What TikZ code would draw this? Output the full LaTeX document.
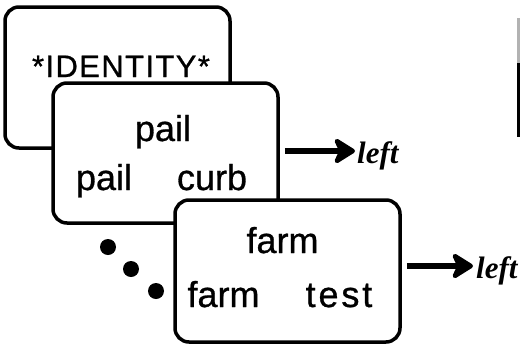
\documentclass[tikz,border=0pt]{standalone}
\usepackage{fontspec}
\setmainfont{Liberation Sans}
\newfontfamily\labelfont{Liberation Serif}
\usetikzlibrary{arrows.meta,calc}

\begin{document}
\begin{tikzpicture}[x=1pt,y=-1pt,
  card/.style={shape=rectangle, draw=black, line width=3.5pt, fill=white,
    rounded corners=14pt, minimum width=225pt, inner sep=0pt},
  word/.style={inner sep=0pt, anchor=base,
    font=\fontsize{36}{40}\selectfont\addfontfeatures{FakeBold=0.8}},
  caps/.style={inner sep=0pt, anchor=base,
    font=\fontsize{31}{34}\selectfont\addfontfeatures{LetterSpace=4.5,FakeBold=0.8}},
  tag/.style={inner sep=0pt, anchor=base west,
    font=\labelfont\bfseries\itshape\fontsize{31}{34}\selectfont},
  link/.style={line width=5.5pt, line join=round,
    -{Stealth[length=25pt,width=31pt,inset=7pt,round]}},
  dot/.style={circle, fill=black, minimum size=16pt, inner sep=0pt}
]
\useasboundingbox (0,0) rectangle (520,346);

% back card
\node[card, minimum height=141pt] (b1) at (117.5,77.5) {};
\node[caps] (id) at (121,77) {*IDENTITY*};

% middle card
\node[card, minimum height=140pt] (b2) at (165.5,153) {};
\node[word] (p1) at (163,141) {pail};
\node[word] (p2) at (104,190) {pail};
\node[word] (c2) at (212,190) {curb};

% front card
\node[card, minimum height=142pt] (b3) at (287.5,271) {};
\node[word] (f1) at (282.5,253) {farm};
\node[word] (f2) at (223.5,307) {farm};
\node[word, font=\fontsize{36}{40}\selectfont\addfontfeatures{FakeBold=0.8,LetterSpace=8}]
  (t2) at (339,307) {test};

% ellipsis dots
\node[dot] (d1) at (108,247) {};
\node[dot] (d2) at (131,269) {};
\node[dot] (d3) at (156,291) {};

% outputs
\coordinate (a1) at (355,151);
\coordinate (a2) at (473,266);
\node[tag] (l1) at (357,163) {left};
\node[tag] (l2) at (476,278) {left};
\draw[link] ($(b2.east |- a1)+(5,0)$) -- (a1);
\draw[link] ($(b3.east |- a2)+(5,0)$) -- (a2);

% edge of the next card
\draw[line width=3pt, black!30] (518,18) -- (518,63);
\draw[line width=3pt] (518,63) -- (518,137);
\end{tikzpicture}
\end{document}
